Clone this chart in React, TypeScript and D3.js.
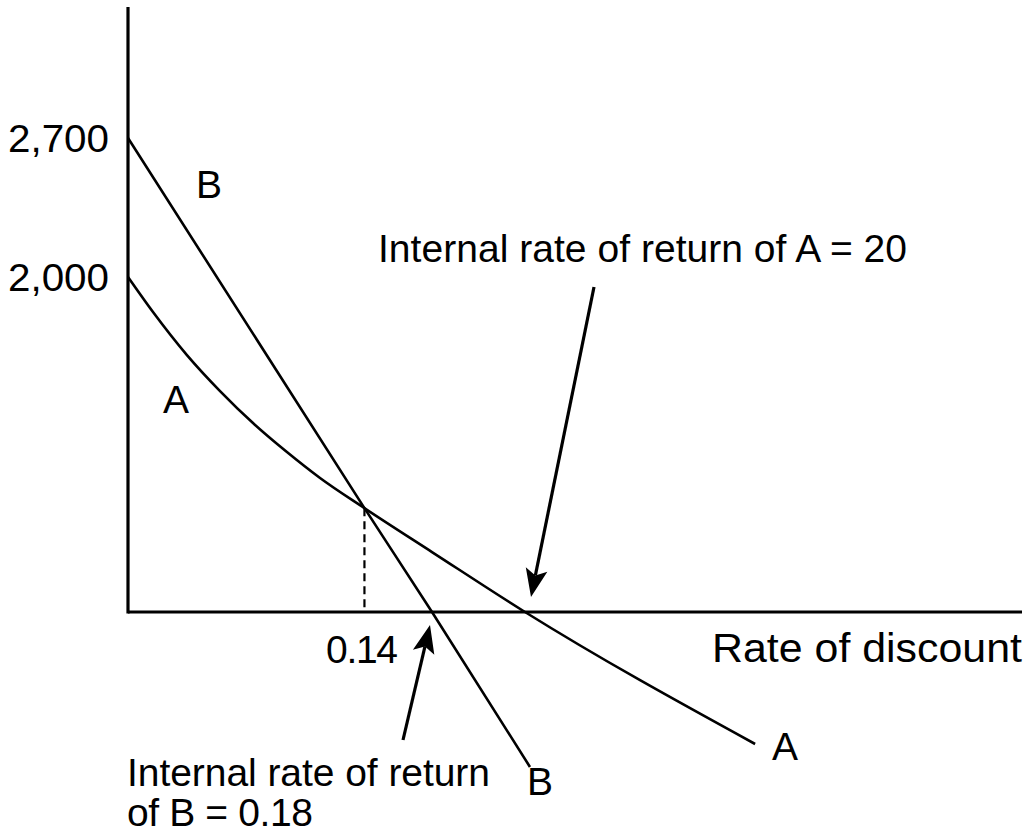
import React from "react";
import * as d3 from "d3";

// Discount rate (as a fraction) and net present value for the two projects
const rateA = [0, 0.0148, 0.0349, 0.0545, 0.074, 0.0941, 0.1137, 0.14, 0.18, 0.2, 0.2926];
const npvA = [2000, 1791, 1534, 1319, 1128, 955, 800, 620, 358, 0, -788];
const rateB = [0, 0.14, 0.18, 0.202];
const npvB = [2700, 620, 0, -925];

const yTicks = [2700, 2000];
const yTickLabels = ["2,700", "2,000"];
const crossoverRate = 0.14;
const crossoverNpv = 620;
const crossoverLabel = "0.14";
const irrA = 0.2;
const irrB = 0.18;

const W = 1030;
const H = 833;
const FONT = "'Liberation Sans', Arial, Helvetica, sans-serif";
const FS = 39;

// Schematic axes: piecewise scales
const x = d3.scaleLinear().domain([0, 0.18, 0.2, 0.4]).range([128, 432, 525, 1022]);
const y = d3.scaleLinear().domain([-1000, 2000, 3360]).range([779.5, 277, 7]);

const line = d3
  .line<[number, number]>()
  .x((d) => x(d[0]))
  .y((d) => y(d[1]))
  .curve(d3.curveMonotoneX);

const seriesA: [number, number][] = rateA.map((r, i) => [r, npvA[i]]);
const seriesB: [number, number][] = rateB.map((r, i) => [r, npvB[i]]);

function arrow(x1: number, y1: number, x2: number, y2: number) {
  const dx = x2 - x1;
  const dy = y2 - y1;
  const len = Math.hypot(dx, dy);
  const ux = dx / len;
  const uy = dy / len;
  const headLen = 28;
  const headW = 11;
  const notch = 6;
  const bx = x2 - ux * headLen;
  const by = y2 - uy * headLen;
  const px = -uy;
  const py = ux;
  const inner = [x2 - ux * (headLen - notch), y2 - uy * (headLen - notch)];
  const head = [[x2, y2], [bx + px * headW, by + py * headW], inner, [bx - px * headW, by - py * headW]];
  return (
    <g>
      <line x1={x1} y1={y1} x2={inner[0]} y2={inner[1]} stroke="#000" strokeWidth={3.2} />
      <polygon points={head.map((p) => p.join(",")).join(" ")} fill="#000" />
    </g>
  );
}

export default function App() {
  const x0 = x(0);
  const y0 = y(0);
  const txt = { fontFamily: FONT, fontSize: FS, fill: "#000" };
  return (
    <svg width={W} height={H} style={{ display: "block", position: "absolute", left: 0, top: 0 }}>
      <rect width={W} height={H} fill="#fff" />
      {/* axes */}
      <line x1={x0} y1={y(3360)} x2={x0} y2={y0 + 1.5} stroke="#000" strokeWidth={3.2} />
      <line x1={x0} y1={y0} x2={x(0.4)} y2={y0} stroke="#000" strokeWidth={3.2} />

      {/* y tick labels */}
      {yTicks.map((v, i) => (
        <text key={v} x={8} y={y(v) + 14} textLength={101} lengthAdjust="spacingAndGlyphs" {...txt}>
          {yTickLabels[i]}
        </text>
      ))}

      {/* crossover guide */}
      <line
        x1={x(crossoverRate)}
        y1={y(crossoverNpv)}
        x2={x(crossoverRate)}
        y2={y0}
        stroke="#000"
        strokeWidth={2.2}
        strokeDasharray="8,5"
      />
      <text x={326} y={663} textLength={72} {...txt}>
        {crossoverLabel}
      </text>

      {/* NPV profiles */}
      <path d={line(seriesB) ?? ""} fill="none" stroke="#000" strokeWidth={2.6} />
      <path d={line(seriesA) ?? ""} fill="none" stroke="#000" strokeWidth={2.6} />

      {/* curve labels */}
      <text x={196} y={198} {...txt}>B</text>
      <text x={163} y={413} {...txt}>A</text>
      <text x={772} y={760} {...txt}>A</text>
      <text x={527} y={795} {...txt}>B</text>

      {/* axis title */}
      <text x={712} y={662} textLength={310} lengthAdjust="spacingAndGlyphs" {...txt} fontSize={41}>
        Rate of discount
      </text>

      {/* IRR annotations */}
      <text x={378} y={262} textLength={529} {...txt}>
        Internal rate of return of A = 20
      </text>
      {arrow(594, 287, x(irrA) + 6, y0 - 15)}

      <text x={127} y={786} textLength={363} {...txt}>Internal rate of return</text>
      <text x={127} y={826} textLength={186} {...txt}>of B = 0.18</text>
      {arrow(403, 740, x(irrB) - 2, y0 + 13)}
    </svg>
  );
}
